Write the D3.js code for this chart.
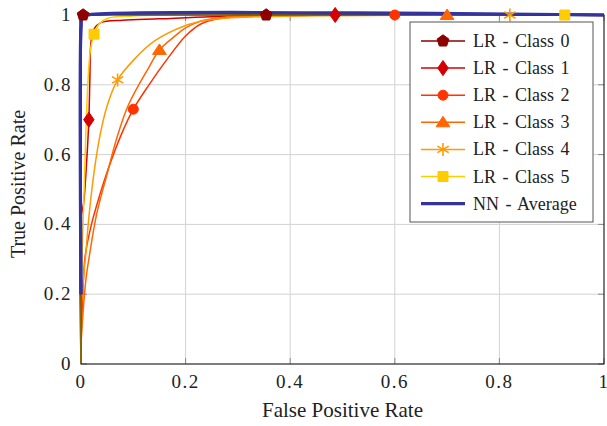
<!DOCTYPE html>
<html>
<head>
<meta charset="utf-8">
<script src="https://cdn.jsdelivr.net/npm/d3@7"></script>
<style>
  html, body { margin: 0; padding: 0; background: #fff; }
  svg { display: block; }
</style>
</head>
<body>
<svg id="chart" width="607" height="426"></svg>
<script>
// ROC curves: logistic regression per class and the neural-network average
const seriesNames = ["LR - Class 0", "LR - Class 1", "LR - Class 2", "LR - Class 3", "LR - Class 4", "LR - Class 5", "NN - Average"];
const seriesColors = ["#8c0000", "#d40000", "#ff3300", "#ff6600", "#ff9a00", "#ffcc00", "#34349c"];
const seriesMarks = ["pentagon", "diamond", "circle", "triangle", "star", "square", null];

const class0 = [[0, 0], [0, 0.5], [0, 0.95], [0.004, 1], [0.354, 1], [1, 1]];
const class0Marks = [3, 4];

const class1 = [[0, 0], [0, 0.42], [0.005, 0.46], [0.01, 0.56], [0.015, 0.70], [0.017, 0.82],
  [0.019, 0.92], [0.025, 0.96], [0.038, 0.978], [0.08, 0.985], [0.15, 0.989], [0.25, 0.995],
  [0.486, 1], [1, 1]];
const class1Marks = [4, 12];

const class2 = [[0, 0], [0, 0.05], [0.002, 0.15], [0.005, 0.25], [0.008, 0.31], [0.02, 0.40],
  [0.035, 0.48], [0.05, 0.55], [0.075, 0.65], [0.1, 0.73], [0.13, 0.80], [0.163, 0.87],
  [0.2, 0.94], [0.23, 0.975], [0.266, 0.99], [0.35, 0.997], [0.6, 1], [1, 1]];
const class2Marks = [9, 16];

const class3 = [[0, 0], [0, 0.05], [0.004, 0.15], [0.01, 0.25], [0.016, 0.31], [0.03, 0.43],
  [0.05, 0.545], [0.067, 0.64], [0.09, 0.74], [0.129, 0.848], [0.15, 0.90], [0.18, 0.94],
  [0.2, 0.963], [0.228, 0.982], [0.27, 0.993], [0.35, 0.998], [0.7, 1], [1, 1]];
const class3Marks = [10, 16];

const class4 = [[0, 0], [0, 0.15], [0.005, 0.25], [0.01, 0.33], [0.015, 0.42], [0.025, 0.55],
  [0.037, 0.66], [0.05, 0.74], [0.07, 0.814], [0.1, 0.87], [0.14, 0.925], [0.2, 0.97],
  [0.24, 0.985], [0.3, 0.993], [0.4, 0.997], [0.82, 1], [1, 1]];
const class4Marks = [8, 15];

const class5 = [[0, 0], [0, 0.2], [0.003, 0.35], [0.006, 0.5], [0.009, 0.65], [0.013, 0.8],
  [0.018, 0.9], [0.025, 0.945], [0.035, 0.975], [0.05, 0.99], [0.1, 0.997], [0.2, 1],
  [0.925, 1], [1, 1]];
const class5Marks = [7, 12];

const nnAverage = [[0, 0.2], [0, 0.97], [0.002, 0.995], [0.01, 1], [1, 1]];

const seriesData = [class0, class1, class2, class3, class4, class5, nnAverage];
const seriesMarkIdx = [class0Marks, class1Marks, class2Marks, class3Marks, class4Marks, class5Marks, []];

const xTicks = [0, 0.2, 0.4, 0.6, 0.8, 1];
const yTicks = [0, 0.2, 0.4, 0.6, 0.8, 1];
const xTitle = "False Positive Rate";
const yTitle = "True Positive Rate";

const FONT = "'Liberation Serif', 'Times New Roman', Times, serif";
const svg = d3.select("#chart").attr("font-family", FONT);
const margin = { left: 81, right: 3, top: 15, bottom: 62 };
const W = 607, H = 426;
const x = d3.scaleLinear().domain([0, 1]).range([margin.left, W - margin.right]);
const y = d3.scaleLinear().domain([0, 1]).range([H - margin.bottom, margin.top]);

// custom marker shapes (size = radius in px)
const shapes = {
  pentagon: { draw(ctx, r) {
    for (let i = 0; i < 5; i++) {
      const a = -Math.PI / 2 + i * 2 * Math.PI / 5;
      const px = r * Math.cos(a), py = r * Math.sin(a);
      i ? ctx.lineTo(px, py) : ctx.moveTo(px, py);
    }
    ctx.closePath();
  }},
  diamond: { draw(ctx, r) {
    ctx.moveTo(0, -r * 1.45); ctx.lineTo(r, 0); ctx.lineTo(0, r * 1.45); ctx.lineTo(-r, 0); ctx.closePath();
  }},
  circle: { draw(ctx, r) { ctx.moveTo(r, 0); ctx.arc(0, 0, r, 0, 2 * Math.PI); }},
  triangle: { draw(ctx, r) {
    ctx.moveTo(0, -r); ctx.lineTo(r * 1.15, r * 0.75); ctx.lineTo(-r * 1.15, r * 0.75); ctx.closePath();
  }},
  square: { draw(ctx, r) { ctx.rect(-r, -r, 2 * r, 2 * r); }},
  star: { draw(ctx, r) {
    for (let i = 0; i < 3; i++) {
      const a = -Math.PI / 2 + i * Math.PI / 3;
      ctx.moveTo(r * Math.cos(a), r * Math.sin(a));
      ctx.lineTo(-r * Math.cos(a), -r * Math.sin(a));
    }
  }}
};
const markSize = { pentagon: 6.2, diamond: 5.2, circle: 5, triangle: 6, square: 5, star: 6.5 };

function drawMark(g, shape, color, cx, cy) {
  const p = d3.symbol().type(shapes[shape]).size(markSize[shape]);
  g.append("path")
    .attr("d", p())
    .attr("transform", `translate(${cx},${cy})`)
    .attr("fill", shape === "star" ? "none" : color)
    .attr("stroke", color)
    .attr("stroke-width", shape === "star" ? 1.6 : 1);
}

// grid
const grid = svg.append("g");
grid.selectAll(".gx").data(xTicks).join("line")
  .attr("x1", d => x(d)).attr("x2", d => x(d))
  .attr("y1", y(0)).attr("y2", y(1))
  .attr("stroke", "#d2d2d2").attr("stroke-width", 1);
grid.selectAll(".gy").data(yTicks).join("line")
  .attr("x1", x(0)).attr("x2", x(1))
  .attr("y1", d => y(d)).attr("y2", d => y(d))
  .attr("stroke", "#d2d2d2").attr("stroke-width", 1);

// inner ticks
const tickLen = 6;
const ticks = svg.append("g").attr("stroke", "#8a8a8a").attr("stroke-width", 1);
xTicks.forEach(t => {
  ticks.append("line").attr("x1", x(t)).attr("x2", x(t)).attr("y1", y(0)).attr("y2", y(0) - tickLen);
  ticks.append("line").attr("x1", x(t)).attr("x2", x(t)).attr("y1", y(1)).attr("y2", y(1) + tickLen);
});
yTicks.forEach(t => {
  ticks.append("line").attr("x1", x(0)).attr("x2", x(0) + tickLen).attr("y1", y(t)).attr("y2", y(t));
  ticks.append("line").attr("x1", x(1)).attr("x2", x(1) - tickLen).attr("y1", y(t)).attr("y2", y(t));
});

// clip region for curves
svg.append("clipPath").attr("id", "plotClip").append("rect")
  .attr("x", x(0) - 2).attr("y", y(1) - 2)
  .attr("width", x(1) - x(0) + 4).attr("height", y(0) - y(1) + 4);

const line = d3.line().x(d => x(d[0])).y(d => y(d[1])).curve(d3.curveCatmullRom.alpha(0.5));
const curves = svg.append("g").attr("clip-path", "url(#plotClip)");
seriesData.forEach((data, i) => {
  const isNN = i === 6;
  curves.append("path")
    .datum(data)
    .attr("d", line)
    .attr("fill", "none")
    .attr("stroke", seriesColors[i])
    .attr("stroke-width", isNN ? 3.2 : 1.5)
    .attr("stroke-linejoin", "round");
});

// frame
svg.append("rect")
  .attr("x", x(0)).attr("y", y(1))
  .attr("width", x(1) - x(0)).attr("height", y(0) - y(1))
  .attr("fill", "none").attr("stroke", "#111").attr("stroke-width", 1);

// NN average drawn over the frame edge
svg.append("path").datum(nnAverage).attr("d", line)
  .attr("fill", "none").attr("stroke", seriesColors[6]).attr("stroke-width", 3.2)
  .attr("stroke-linejoin", "round");

// markers
const marks = svg.append("g");
seriesData.forEach((data, i) => {
  if (!seriesMarks[i]) return;
  seriesMarkIdx[i].forEach(k => drawMark(marks, seriesMarks[i], seriesColors[i], x(data[k][0]), y(data[k][1])));
});

// tick labels
svg.append("g").selectAll("text").data(xTicks).join("text")
  .attr("x", d => x(d)).attr("y", y(0) + 24)
  .attr("text-anchor", "middle").attr("font-size", 19).attr("letter-spacing", "1.5px").attr("fill", "#222")
  .text(d => d3.format("~g")(d));
svg.append("g").selectAll("text").data(yTicks).join("text")
  .attr("x", x(0) - 9).attr("y", d => y(d) + 6)
  .attr("text-anchor", "end").attr("font-size", 19).attr("letter-spacing", "1.5px").attr("fill", "#222")
  .text(d => d3.format("~g")(d));

// axis titles
svg.append("text").attr("x", (x(0) + x(1)) / 2).attr("y", 417)
  .attr("text-anchor", "middle").attr("font-size", 21).attr("fill", "#222").text(xTitle);
svg.append("text").attr("transform", "translate(25,184) rotate(-90)")
  .attr("text-anchor", "middle").attr("font-size", 20).attr("fill", "#222").text(yTitle);

// legend
const lg = svg.append("g");
const lgX = 410, lgY = 22, rowH = 27.1;
lg.append("rect").attr("x", lgX).attr("y", lgY).attr("width", 183).attr("height", 200)
  .attr("fill", "#fff").attr("stroke", "#555").attr("stroke-width", 1);
seriesNames.forEach((name, i) => {
  const cy = lgY + 19 + i * rowH;
  const isNN = i === 6;
  lg.append("line").attr("x1", lgX + 11).attr("x2", lgX + 55).attr("y1", cy).attr("y2", cy)
    .attr("stroke", seriesColors[i]).attr("stroke-width", isNN ? 3.2 : 1.5);
  if (seriesMarks[i]) drawMark(lg, seriesMarks[i], seriesColors[i], lgX + 33, cy);
  lg.append("text").attr("x", lgX + 63).attr("y", cy + 6).attr("font-size", 18).attr("fill", "#222")
    .attr("word-spacing", "2px").text(name);
});
</script>
</body>
</html>
